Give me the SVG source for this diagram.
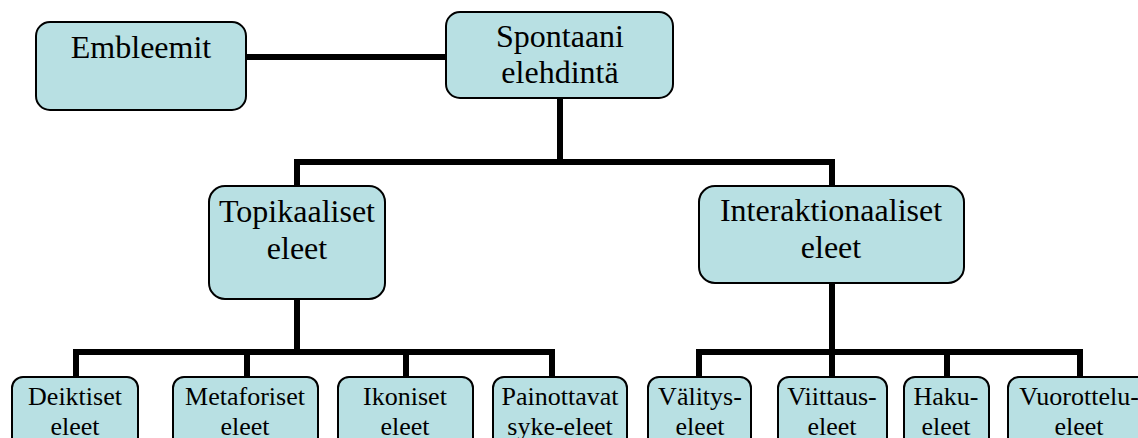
<svg xmlns="http://www.w3.org/2000/svg" width="1138" height="438" viewBox="0 0 1138 438">
<style>
.box{fill:#b8e0e3;stroke:#000;stroke-width:2}
.t{fill:#000;text-anchor:middle}
.big{font-size:32px}
.small{font-size:26px}
.c{stroke:#000;stroke-width:6;fill:none;stroke-linecap:square;stroke-linejoin:miter}
</style>
<rect width="1138" height="438" fill="#fff"/>
<g id="connectors">
<path class="c" d="M246 57H446"/>
<path class="c" d="M560 98V162M297 162H832M297 162V186M832 162V186"/>
<path class="c" d="M297 299V352M76 352H552M76 352V377M247 352V377M406 352V377M552 352V377"/>
<path class="c" d="M832 283V377M699 352H1080M699 352V377M947 352V377M1080 352V377"/>
</g>
<g font-family="'Liberation Serif', 'DejaVu Serif', serif">
<g id="embleemit"><rect class="box" x="36" y="22" width="210" height="88" rx="14"/><text class="t big" x="141" y="58">Embleemit</text></g>
<g id="spontaani"><rect class="box" x="446" y="12" width="227" height="86" rx="14"/><text class="t big" x="560" y="47">Spontaani</text><text class="t big" x="560" y="83">elehdintä</text></g>
<g id="topikaaliset"><rect class="box" x="209" y="186" width="176" height="113" rx="16"/><text class="t big" x="297" y="222">Topikaaliset</text><text class="t big" x="297" y="259">eleet</text></g>
<g id="interaktionaaliset"><rect class="box" x="699" y="186" width="265" height="97" rx="16"/><text class="t big" x="831" y="221">Interaktionaaliset</text><text class="t big" x="831" y="258">eleet</text></g>
<g id="deiktiset"><rect class="box" x="12" y="377" width="126" height="80" rx="11"/><text class="t small" x="75" y="405">Deiktiset</text><text class="t small" x="75" y="435">eleet</text></g>
<g id="metaforiset"><rect class="box" x="173" y="377" width="145" height="80" rx="11"/><text class="t small" x="245" y="405">Metaforiset</text><text class="t small" x="245" y="435">eleet</text></g>
<g id="ikoniset"><rect class="box" x="338" y="377" width="135" height="80" rx="11"/><text class="t small" x="405" y="405">Ikoniset</text><text class="t small" x="405" y="435">eleet</text></g>
<g id="painottavat"><rect class="box" x="493" y="377" width="134" height="80" rx="11"/><text class="t small" x="560" y="405">Painottavat</text><text class="t small" x="560" y="435">syke-eleet</text></g>
<g id="valitys"><rect class="box" x="648" y="377" width="103" height="80" rx="11"/><text class="t small" x="700" y="405">Välitys-</text><text class="t small" x="700" y="435">eleet</text></g>
<g id="viittaus"><rect class="box" x="778" y="377" width="109" height="80" rx="11"/><text class="t small" x="832" y="405">Viittaus-</text><text class="t small" x="832" y="435">eleet</text></g>
<g id="haku"><rect class="box" x="904" y="377" width="85" height="80" rx="11"/><text class="t small" x="946" y="405">Haku-</text><text class="t small" x="946" y="435">eleet</text></g>
<g id="vuorottelu"><rect class="box" x="1008" y="377" width="142" height="80" rx="11"/><text class="t small" x="1079" y="405">Vuorottelu-</text><text class="t small" x="1079" y="435">eleet</text></g>
</g>
</svg>
